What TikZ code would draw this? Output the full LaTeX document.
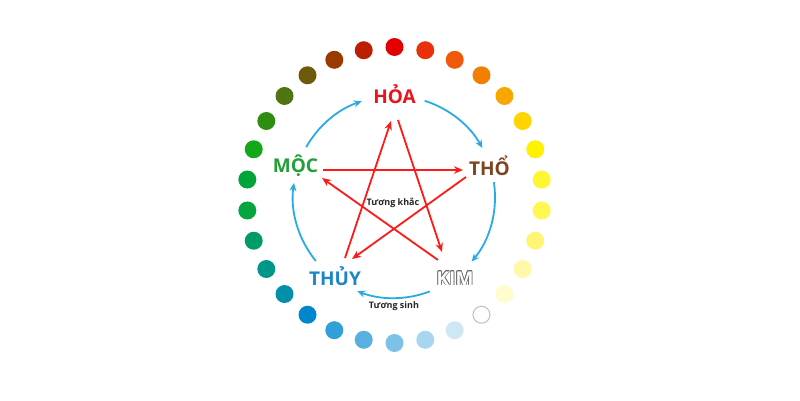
\documentclass[tikz,border=0pt]{standalone}
\usepackage{fontspec}
\setmainfont{Open Sans}
\usepackage{contour}
\contourlength{0.55pt}
\usetikzlibrary{arrows.meta,calc}
\definecolor{d0}{HTML}{E50000}
\definecolor{d1}{HTML}{E8300A}
\definecolor{d2}{HTML}{EE5A0A}
\definecolor{d3}{HTML}{F28000}
\definecolor{d4}{HTML}{F7A800}
\definecolor{d5}{HTML}{FFD500}
\definecolor{d6}{HTML}{FFF200}
\definecolor{d7}{HTML}{FFF633}
\definecolor{d8}{HTML}{FFF84F}
\definecolor{d9}{HTML}{FFF574}
\definecolor{d10}{HTML}{FFF8A8}
\definecolor{d11}{HTML}{FFFDD0}
\definecolor{d12}{HTML}{FFFFFF}
\definecolor{d13}{HTML}{CFE6F5}
\definecolor{d14}{HTML}{A8D6EF}
\definecolor{d15}{HTML}{7CC2E8}
\definecolor{d16}{HTML}{58B0E0}
\definecolor{d17}{HTML}{30A0D8}
\definecolor{d18}{HTML}{0086CC}
\definecolor{d19}{HTML}{0090AA}
\definecolor{d20}{HTML}{009689}
\definecolor{d21}{HTML}{009B68}
\definecolor{d22}{HTML}{05A640}
\definecolor{d23}{HTML}{00A53A}
\definecolor{d24}{HTML}{12A818}
\definecolor{d25}{HTML}{2E8E12}
\definecolor{d26}{HTML}{4E7414}
\definecolor{d27}{HTML}{6E5A0A}
\definecolor{d28}{HTML}{9A3A00}
\definecolor{d29}{HTML}{BE1E00}
\definecolor{hoared}{HTML}{E8141C}
\definecolor{thobrown}{HTML}{7A4520}
\definecolor{mocgreen}{HTML}{21A038}
\definecolor{thuyblue}{HTML}{1C86C8}
\definecolor{kimgray}{HTML}{6E6E6E}
\definecolor{sinhblue}{HTML}{29ABE2}
\definecolor{khacred}{HTML}{FF1A1A}
\begin{document}
\begin{tikzpicture}[x=1pt,y=1pt,
  lab/.style={font=\bfseries\fontsize{19}{19}\selectfont, anchor=base, inner sep=0pt},
  small/.style={font=\bfseries\fontsize{9}{10}\selectfont, text=black!85, inner sep=0pt},
  sinh/.style={draw=sinhblue, line width=1.8pt, -{Stealth[length=8pt,width=7pt]}},
  khac/.style={draw=khacred, line width=1.8pt, -{Stealth[length=9pt,width=7.5pt]}}]
\useasboundingbox (0,0) rectangle (800,400);
\coordinate (c) at (394.5,205);
\coordinate (o) at (394,203);
% ring of dots
\foreach \i in {0,...,29}
  \fill[d\i] ($(c)+({90-12*\i}:148)$) circle[radius=9];
\draw[black!25, line width=1pt] ($(c)+({90-12*12}:148)$) circle[radius=8.5];
% labels
\node[lab, text=hoared] (hoa) at (394.5,297) {HỎA};
\node[lab, text=thobrown] (tho) at (489.5,225) {THỔ};
\node[lab, text=mocgreen] (moc) at (295.5,228) {MỘC};
\node[lab, text=thuyblue] (thuy) at (335,115) {THỦY};
\node[lab] (kim) at (455,115) {\contour{kimgray}{\textcolor{white}{KIM}}};
\node[small] (tk) at (393,197) {Tương khắc};
\node[small] (ts) at (394,94) {Tương sinh};
% star end points
\coordinate (hoaL) at (391,279);
\coordinate (hoaR) at (398,280);
\coordinate (tho1) at (463,230);
\coordinate (tho2) at (466,223);
\coordinate (kim1) at (442,148);
\coordinate (kim2) at (438,140);
\coordinate (thuy1) at (352,141);
\coordinate (thuy2) at (345,142);
\coordinate (moc1) at (322,222);
\coordinate (moc2) at (323,230);
\draw[khac] (moc2) -- (tho1);
\draw[khac] (tho2) -- (thuy1);
\draw[khac] (thuy2) -- (hoaL);
\draw[khac] (hoaR) -- (kim1);
\draw[khac] (kim2) -- (moc1);
% generating cycle
\coordinate (s1) at ($(o)+(72.3:101)$);
\coordinate (s2) at ($(o)+(8.4:101)$);
\coordinate (s3) at ($(o)+(-69.2:101)$);
\coordinate (s4) at ($(o)+(-140.7:101)$);
\coordinate (s5) at ($(o)+(150.4:101)$);
\draw[sinh] (s1) arc[start angle=72.3, end angle=29, radius=101];
\draw[sinh] (s2) arc[start angle=8.4, end angle=-39.8, radius=101];
\draw[sinh] (s3) arc[start angle=-69.2, end angle=-111.3, radius=101];
\draw[sinh] (s4) arc[start angle=-140.7, end angle=-188, radius=101];
\draw[sinh] (s5) arc[start angle=150.4, end angle=108.6, radius=101];
\end{tikzpicture}
\end{document}
